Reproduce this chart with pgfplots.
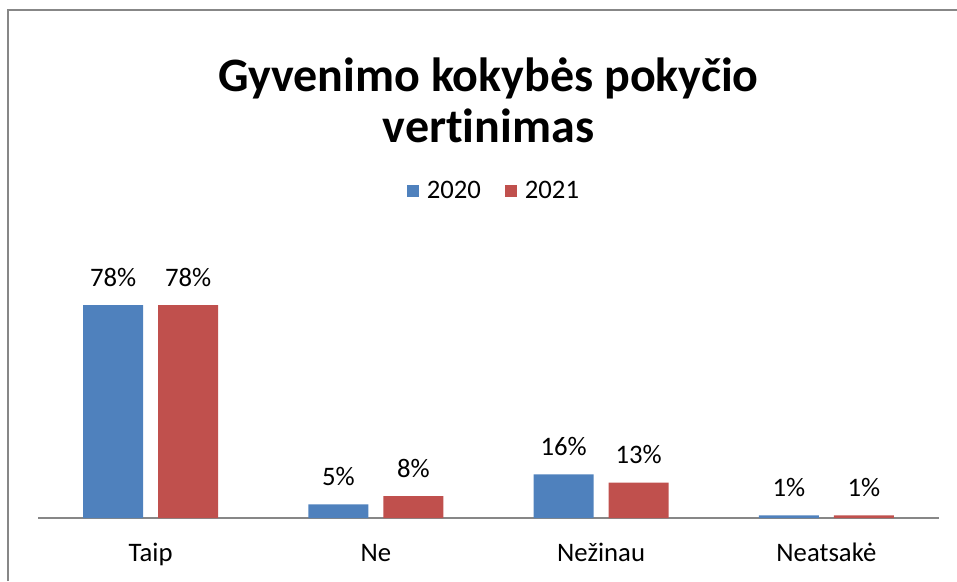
\documentclass[border=0pt]{standalone}
\usepackage{pgfplots}
\pgfplotsset{compat=1.18}
\usepackage{fontspec}
\setmainfont{Carlito}[Ligatures=NoCommon]
\definecolor{cblue}{HTML}{4F81BD}
\definecolor{cred}{HTML}{C0504D}
\definecolor{cgray}{HTML}{878787}
\begin{document}
\begin{tikzpicture}[x=1pt,y=1pt]
\path[use as bounding box] (0,0) rectangle (957,-581);
\draw[cgray, line width=1.5pt] (8,-581) -- (8,-10) -- (957,-10);
\begin{axis}[
  at={(38pt,-518pt)}, anchor=south west,
  scale only axis, width=901pt, height=273pt,
  xmin=-0.5, xmax=3.5, ymin=0, ymax=100,
  hide y axis,
  axis x line*=bottom,
  axis line style={cgray, line width=1.5pt, -},
  xtick={0,1,2,3},
  xticklabels={Taip, Ne, Nežinau, Neatsakė},
  major tick length=0pt,
  /pgf/number format/assume math mode=true,
  xticklabel style={anchor=base, yshift=-43pt, font=\fontsize{26.7}{32}\selectfont},
  ybar=15pt, bar width=60pt,
  nodes near coords={\pgfmathprintnumber{\pgfplotspointmeta}\%},
  every node near coord/.append style={anchor=base, yshift=19pt, font=\fontsize{26.7}{32}\selectfont, text=black},
  title={Gyvenimo kokybės pokyčio\\vertinimas},
  title style={at={(axis description cs:0.5,1.0)}, anchor=south, yshift=93pt, align=center, font=\bfseries\fontsize{48}{51}\selectfont},
  legend style={at={(axis description cs:0.506,1.198)}, anchor=center, draw=none, legend columns=2,
    font=\fontsize{26.7}{32}\selectfont,
    /tikz/every odd column/.append style={column sep=6pt},
    /tikz/every even column/.append style={column sep=22pt}},
  legend image code/.code={\fill[#1] (0pt,-6pt) rectangle (12pt,6pt);},
]
\addplot[fill=cblue, draw=none] coordinates {(0,78) (1,5) (2,16) (3,1)};
\addplot[fill=cred, draw=none] coordinates {(0,78) (1,8) (2,13) (3,1)};
\legend{2020, 2021}
\end{axis}
\end{tikzpicture}
\end{document}
